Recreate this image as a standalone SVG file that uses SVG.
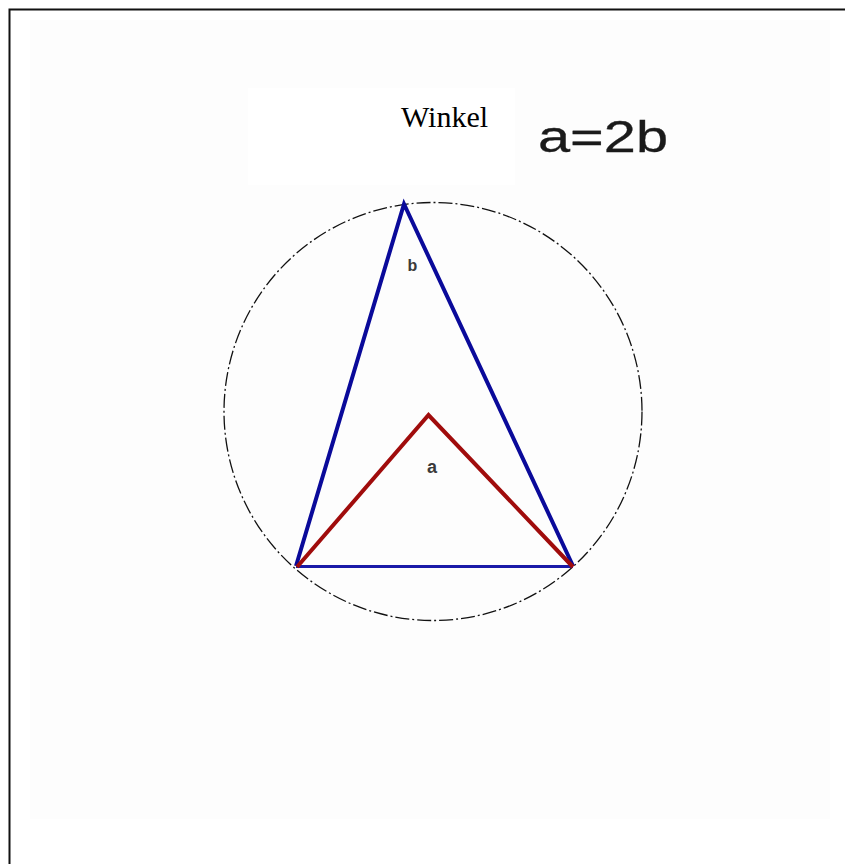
<svg xmlns="http://www.w3.org/2000/svg" width="845" height="864" viewBox="0 0 845 864">
  <style>
    .circle { fill: none; stroke: #111; stroke-width: 1.3; stroke-dasharray: 14 3 2 3; }
    .blue { fill: none; stroke: #0a0a9a; stroke-width: 4; stroke-linejoin: miter; }
    .base { stroke: #1a1aa8; stroke-width: 3; }
    .red { fill: none; stroke: #a00c0c; stroke-width: 4; stroke-linejoin: miter; }
    .lbl { font-family: "Liberation Sans", Arial, sans-serif; font-weight: bold; fill: #3a3a3a; text-anchor: middle; }
  </style>
  <rect x="0" y="0" width="845" height="864" fill="#ffffff"/>
  <rect x="30" y="20" width="800" height="799" fill="#fdfdfd"/>
  <rect x="248" y="88" width="267" height="97" fill="#ffffff"/>
  <path d="M9.5 864 V9.5 H845" fill="none" stroke="#111" stroke-width="2"/>
  <g id="title">
    <text x="401" y="127" font-family="'Liberation Serif', 'Times New Roman', serif" font-size="30" fill="#000">Winkel</text>
  </g>
  <g id="formula">
    <text x="538" y="152" font-family="'Liberation Sans', Arial, sans-serif" font-size="45" fill="#1a1a1a" stroke="#1a1a1a" stroke-width="0.3" textLength="130" lengthAdjust="spacingAndGlyphs">a=2b</text>
  </g>
  <g id="circle">
    <circle class="circle" cx="433" cy="411.5" r="209"/>
  </g>
  <g id="connectors">
    <line class="base" x1="296" y1="566.5" x2="573" y2="566.5"/>
    <polyline class="blue" points="296,566 404,204 573,566"/>
    <polyline class="red" points="297,567 428.5,415 573,567"/>
  </g>
  <g id="label-b">
    <text class="lbl" x="412.5" y="271" font-size="16">b</text>
  </g>
  <g id="label-a">
    <text class="lbl" x="432" y="473" font-size="18">a</text>
  </g>
</svg>
